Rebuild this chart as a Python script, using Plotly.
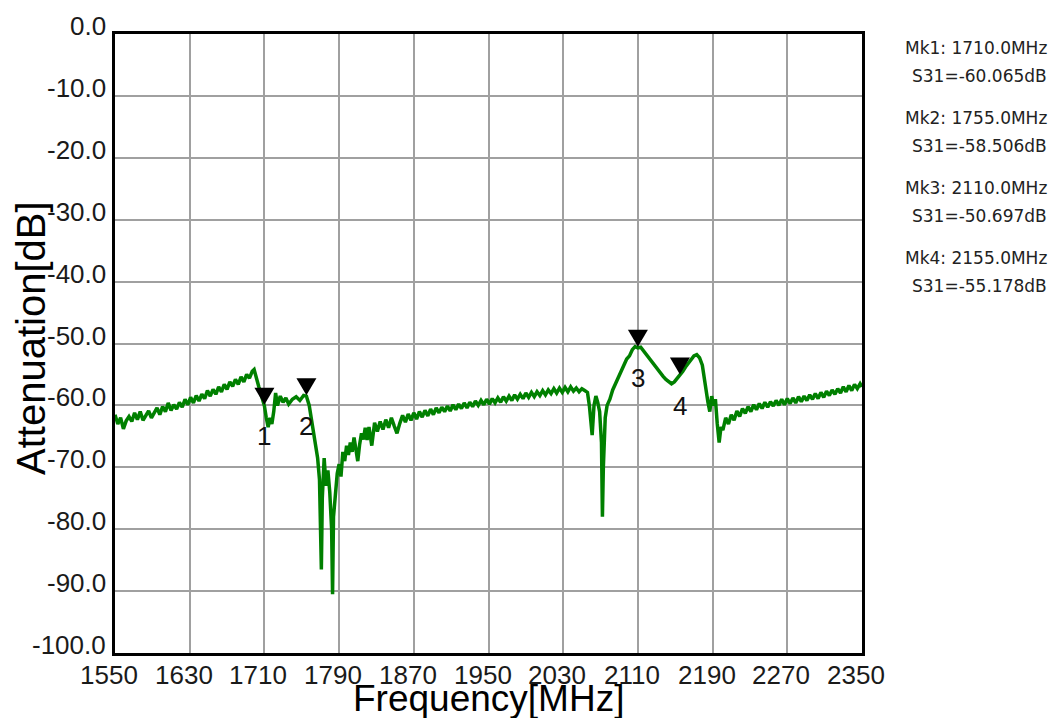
import plotly.graph_objects as go

# ---------------- data ----------------
# rising noisy floor below the first passband edge
low_freq = [
    1550, 1553, 1556, 1559, 1562, 1565, 1568, 1571, 1574, 1577,
    1580, 1583, 1586, 1589, 1592, 1595, 1598, 1601, 1604, 1607,
    1610, 1613, 1616, 1619, 1622, 1625, 1628, 1631, 1634, 1637,
    1640, 1643, 1646, 1649, 1652, 1655, 1658, 1661, 1664, 1667,
    1670, 1673, 1676, 1679, 1682, 1685, 1688, 1691, 1694, 1697,
    1699,
]
low_db = [
    -61.5, -63.0, -62.0, -63.8, -62.5, -61.8, -62.6, -61.2, -62.3, -61.0,
    -62.4, -61.6, -60.9, -62.0, -61.2, -60.4, -61.5, -60.2, -61.0, -59.6,
    -60.8, -59.9, -60.6, -59.5, -60.3, -59.0, -59.9, -58.7, -59.6, -58.4,
    -59.3, -58.2, -58.9, -57.6, -58.5, -57.4, -58.2, -57.0, -57.8, -56.6,
    -57.4, -56.2, -56.9, -55.8, -56.6, -55.4, -56.2, -55.0, -55.6, -54.5,
    -54.2,
]

# markers 1/2 region and the deep notch near 1780 MHz
notch1_freq = [
    1701, 1704, 1707, 1710, 1712, 1714, 1716, 1718, 1720, 1722,
    1724, 1727, 1730, 1733, 1736, 1740, 1744, 1748, 1752, 1755,
    1758, 1761, 1764, 1767, 1769, 1770, 1771, 1772, 1774, 1776,
    1778, 1780, 1782, 1783, 1784, 1786, 1788,
]
notch1_db = [
    -55.5, -57.0, -58.5, -60.07, -62.0, -63.5, -62.0, -63.0, -61.0, -58.0,
    -60.0, -58.5, -59.5, -58.8, -59.8, -59.0, -58.6, -59.2, -58.4, -58.5,
    -60.0, -63.0, -66.0, -68.5, -72.0, -80.0, -86.5, -75.0, -68.5, -73.0,
    -70.5, -74.0, -80.0, -90.5, -78.0, -74.5, -71.0,
]

# slow recovery between the two bands
mid_freq = [
    1790, 1792, 1794, 1796, 1798, 1800, 1802, 1804, 1806, 1808,
    1810, 1812, 1814, 1816, 1818, 1820, 1822, 1825, 1828, 1831,
    1834, 1837, 1840, 1843, 1846, 1849, 1852, 1855, 1858, 1861,
    1864, 1867, 1870, 1873, 1876, 1879, 1882, 1885, 1888, 1891,
    1894, 1897, 1900, 1903, 1906, 1909, 1912, 1915, 1918, 1921,
    1924, 1927, 1930, 1933, 1936, 1939, 1942, 1945, 1948, 1951,
    1954, 1957, 1960, 1963, 1966, 1969, 1972, 1975, 1978, 1981,
    1984, 1987, 1990, 1993, 1996, 1999, 2002, 2005, 2008, 2011,
    2014, 2017, 2020, 2023, 2026, 2029, 2032, 2035, 2038, 2041,
    2044, 2047, 2050, 2053, 2056,
]
mid_db = [
    -69.5, -71.5, -67.5, -69.0, -66.5, -68.0, -66.0, -67.5, -65.2, -66.8,
    -69.0, -66.3, -64.5, -65.5, -63.6, -65.6, -63.5, -66.5, -62.8, -64.2,
    -62.6, -63.9, -62.3, -63.6, -62.0, -63.3, -64.5, -62.9, -61.6, -62.7,
    -61.4, -62.4, -61.2, -62.2, -61.0, -61.9, -60.8, -61.7, -60.6, -61.5,
    -60.4, -61.2, -60.3, -61.0, -60.1, -60.9, -59.9, -60.7, -59.8, -60.5,
    -59.6, -60.4, -59.5, -60.2, -59.3, -60.0, -59.2, -59.9, -59.0, -59.8,
    -58.9, -59.6, -58.8, -59.5, -58.6, -59.3, -58.5, -59.2, -58.3, -59.0,
    -58.2, -58.9, -58.0, -58.7, -57.9, -58.6, -57.8, -58.4, -57.6, -58.3,
    -57.5, -58.1, -57.3, -58.0, -57.2, -57.9, -57.1, -57.8, -57.0, -57.7,
    -57.2, -57.8, -57.3, -57.6, -57.9,
]

# second notch pair, markers 3/4 hump and the edge near 2200 MHz
band2_freq = [
    2058, 2061, 2063, 2065, 2067, 2069, 2071, 2072, 2073, 2075,
    2077, 2080, 2083, 2086, 2089, 2092, 2095, 2098, 2101, 2104,
    2107, 2110, 2113, 2116, 2119, 2122, 2125, 2128, 2131, 2134,
    2137, 2140, 2143, 2146, 2149, 2152, 2155, 2158, 2161, 2164,
    2167, 2170, 2173, 2176, 2179, 2181, 2183, 2185, 2187, 2189,
    2191, 2193, 2195, 2197, 2199,
]
band2_db = [
    -60.0, -64.8, -60.0, -58.5, -59.5, -61.0, -66.0, -78.0, -70.0, -62.0,
    -60.0, -59.0, -57.5, -56.5, -55.5, -54.5, -53.5, -52.5, -52.0, -51.0,
    -50.5, -50.7, -50.6, -51.2, -51.8, -52.5, -53.0, -53.6, -54.2, -54.8,
    -55.3, -55.8, -56.2, -56.5, -56.2, -55.7, -55.2, -54.5, -53.8, -53.2,
    -52.5, -52.0, -51.8, -52.3, -53.5, -55.5, -58.0, -59.5, -61.0, -58.5,
    -60.0, -59.0, -63.0, -66.0, -63.5,
]

# noisy floor above the second band
high_freq = [
    2201, 2204, 2207, 2210, 2213, 2216, 2219, 2222, 2225, 2228,
    2231, 2234, 2237, 2240, 2243, 2246, 2249, 2252, 2255, 2258,
    2261, 2264, 2267, 2270, 2273, 2276, 2279, 2282, 2285, 2288,
    2291, 2294, 2297, 2300, 2303, 2306, 2309, 2312, 2315, 2318,
    2321, 2324, 2327, 2330, 2333, 2336, 2339, 2342, 2345, 2348,
    2350,
]
high_db = [
    -64.0, -62.0, -63.0, -61.5, -62.4, -60.9, -61.8, -60.5, -61.3, -60.2,
    -61.0, -59.9, -60.7, -59.7, -60.5, -59.5, -60.3, -59.4, -60.1, -59.2,
    -60.0, -59.0, -59.9, -58.9, -59.7, -58.8, -59.6, -58.6, -59.4, -58.5,
    -59.2, -58.3, -59.0, -58.1, -58.9, -57.9, -58.7, -57.7, -58.4, -57.5,
    -58.2, -57.3, -58.0, -57.0, -57.8, -56.8, -57.6, -56.6, -57.3, -56.5,
    -57.0,
]

freq_mhz = low_freq + notch1_freq + mid_freq + band2_freq + high_freq
s31_db = low_db + notch1_db + mid_db + band2_db + high_db
assert len(freq_mhz) == len(s31_db)

marker_ids = ["1", "2", "3", "4"]
marker_freq = [1710.0, 1755.0, 2110.0, 2155.0]
marker_s31 = [-60.065, -58.506, -50.697, -55.178]

x_tick_vals = [1550, 1630, 1710, 1790, 1870, 1950, 2030, 2110, 2190, 2270, 2350]
x_tick_text = ["1550", "1630", "1710", "1790", "1870", "1950", "2030", "2110", "2190", "2270", "2350"]
y_tick_vals = [0, -10, -20, -30, -40, -50, -60, -70, -80, -90, -100]
y_tick_text = ["0.0", "-10.0", "-20.0", "-30.0", "-40.0", "-50.0", "-60.0", "-70.0", "-80.0", "-90.0", "-100.0"]

# ---------------- layout geometry (pixels) ----------------
W, H = 1052, 718
ML, MR, MT, MB = 115, 190, 34, 65
PW, PH = W - ML - MR, H - MT - MB


def px_to_paper_x(px):
    return (px - ML) / PW


def px_to_paper_y(py):
    return (H - MB - py) / PH


FONT = "Liberation Sans, Arial, sans-serif"
TICK_FONT = dict(family=FONT, size=26, color="#1a1a1a")

fig = go.Figure()
fig.add_trace(go.Scatter(
    x=freq_mhz, y=s31_db, mode="lines",
    line=dict(color="#008000", width=3.5),
    showlegend=False, hoverinfo="skip",
))

shapes = []
annotations = []
for mid, f, v in zip(marker_ids, marker_freq, marker_s31):
    shapes.append(dict(
        type="path", xref="x", yref="y",
        xsizemode="pixel", ysizemode="pixel",
        xanchor=f, yanchor=v,
        path="M -10,18 L 10,18 L 0,1 Z",
        fillcolor="black", line=dict(color="black", width=0),
    ))
    annotations.append(dict(
        x=f, y=v, xref="x", yref="y", text=mid, showarrow=False,
        yshift=-30, yanchor="middle", xanchor="center",
        font=dict(family=FONT, size=26, color="#111111"),
    ))

# tick labels (placed as the reference shows them: slightly left / above the grid)
for tv, tt in zip(x_tick_vals, x_tick_text):
    annotations.append(dict(
        x=tv, y=px_to_paper_y(675), xref="x", yref="paper", text=tt,
        showarrow=False, xanchor="center", yanchor="middle", xshift=-6,
        font=TICK_FONT,
    ))
for tv, tt in zip(y_tick_vals, y_tick_text):
    annotations.append(dict(
        x=px_to_paper_x(108), y=tv, xref="paper", yref="y", text=tt,
        showarrow=False, xanchor="right", yanchor="middle", yshift=8,
        font=TICK_FONT,
    ))

# marker readouts at the right
readout_centers = [48, 118, 188, 258]
for mid, f, v, yc in zip(marker_ids, marker_freq, marker_s31, readout_centers):
    annotations.append(dict(
        x=px_to_paper_x(1049), y=px_to_paper_y(yc), xref="paper", yref="paper",
        text=f"Mk{mid}: {f:.1f}MHz", showarrow=False,
        xanchor="right", yanchor="middle",
        font=dict(family="DejaVu Sans, sans-serif", size=17, color="#222222"),
    ))
    annotations.append(dict(
        x=px_to_paper_x(1049), y=px_to_paper_y(yc + 28), xref="paper", yref="paper",
        text=f"S31={v:.3f}dB", showarrow=False,
        xanchor="right", yanchor="middle",
        font=dict(family="DejaVu Sans, sans-serif", size=17, color="#222222"),
    ))

# axis titles
annotations.append(dict(
    x=0.5, y=px_to_paper_y(698), xref="paper", yref="paper",
    text="Frequency[MHz]", showarrow=False, xanchor="center", yanchor="middle",
    font=dict(family=FONT, size=37, color="black"),
))
annotations.append(dict(
    x=px_to_paper_x(31), y=px_to_paper_y(338), xref="paper", yref="paper",
    text="Attenuation[dB]", showarrow=False, xanchor="center", yanchor="middle",
    textangle=-90,
    font=dict(family=FONT, size=40, color="black"),
))

fig.update_layout(
    width=W, height=H,
    margin=dict(l=ML, r=MR, t=MT, b=MB, autoexpand=False),
    paper_bgcolor="white", plot_bgcolor="white",
    shapes=shapes, annotations=annotations,
    showlegend=False,
)
fig.update_xaxes(
    range=[1550, 2350], tickmode="array", tickvals=x_tick_vals,
    showticklabels=False,
    showgrid=True, gridcolor="#a0a0a0", gridwidth=2, zeroline=False,
    showline=True, linecolor="black", linewidth=3, mirror=True,
    ticks="", automargin=False,
)
fig.update_yaxes(
    range=[-100, 0], tickmode="array", tickvals=y_tick_vals,
    showticklabels=False,
    showgrid=True, gridcolor="#a0a0a0", gridwidth=2, zeroline=False,
    showline=True, linecolor="black", linewidth=3, mirror=True,
    ticks="", automargin=False,
)

fig.write_html(
    "out.html",
    config={"displayModeBar": False},
    post_script="document.body.style.margin='0px';document.body.style.padding='0px';",
)
